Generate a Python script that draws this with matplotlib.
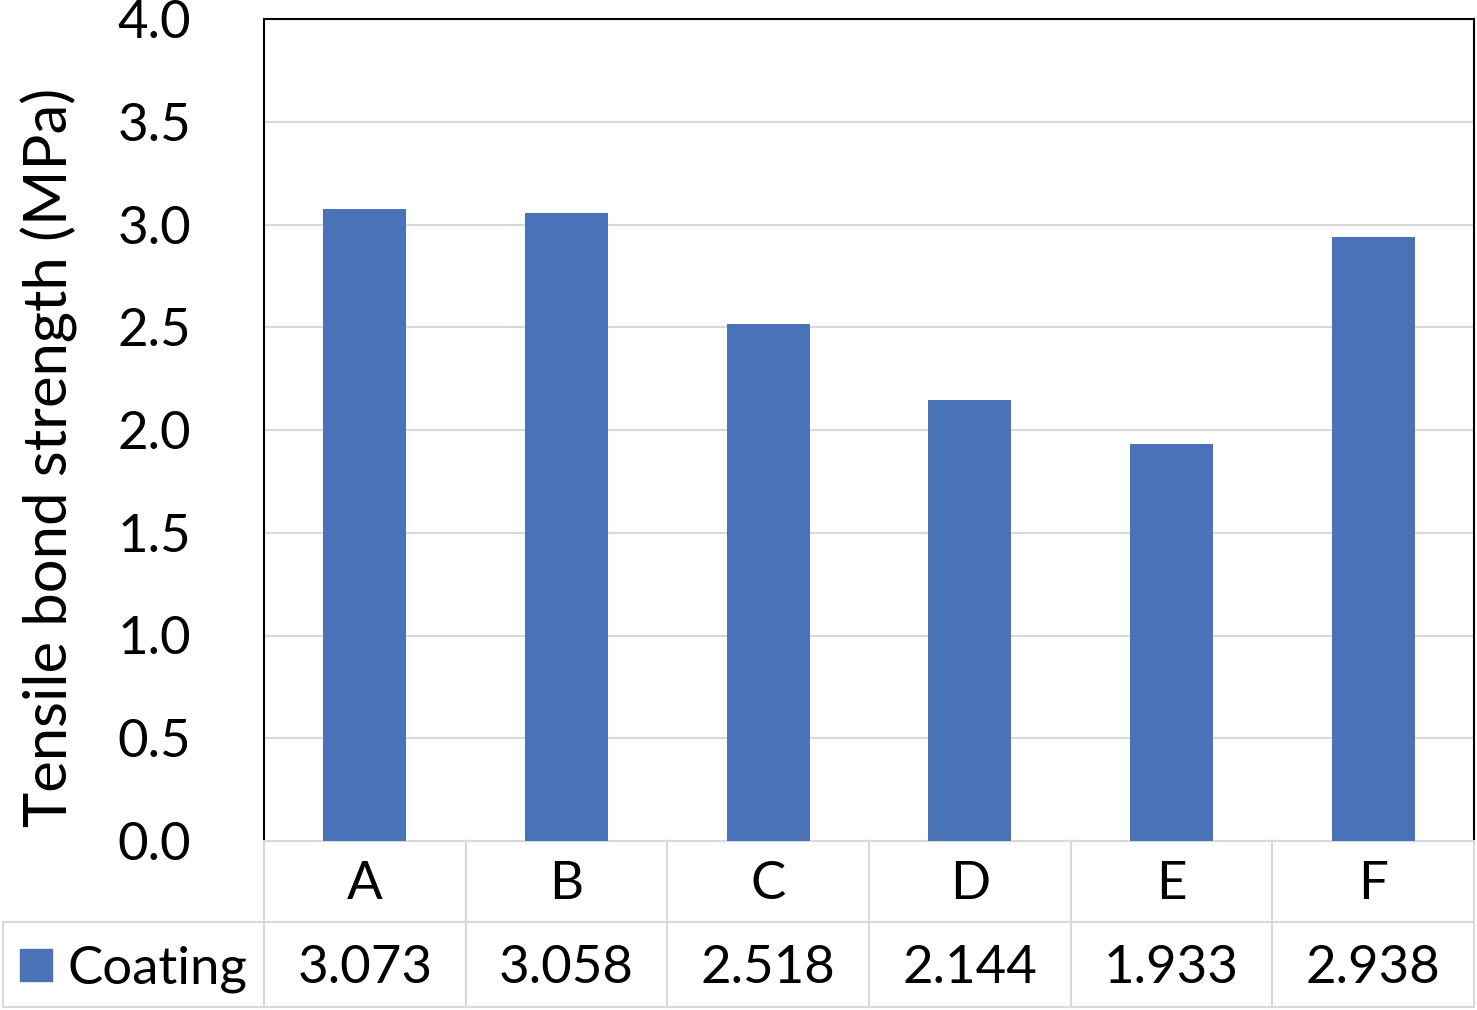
import matplotlib.pyplot as plt
from matplotlib.transforms import blended_transform_factory
from matplotlib.patches import Rectangle

categories = ['A', 'B', 'C', 'D', 'E', 'F']
coating = [3.073, 3.058, 2.518, 2.144, 1.933, 2.938]
series_name = 'Coating'
yticks = [0.0, 0.5, 1.0, 1.5, 2.0, 2.5, 3.0, 3.5, 4.0]

bar_color = '#4A72B8'
grid_color = '#D9D9D9'
plt.rcParams['font.family'] = ['Lato', 'DejaVu Sans']
fs = 38

W, H = 1477, 1010
fig = plt.figure(figsize=(W / 100, H / 100), dpi=100)
# plot area in pixels: left 264, right 1474, top 19, bottom 841
ax = fig.add_axes([264 / W, 1 - 841 / H, (1474 - 264) / W, (841 - 19) / H])

x = list(range(len(categories)))
ax.bar(x, coating, width=0.41, color=bar_color, zorder=3)
ax.set_xlim(-0.5, len(categories) - 0.5)
ax.set_ylim(0, 4)
ax.set_yticks(yticks)
ax.set_yticklabels([f'{v:.1f}' for v in yticks], fontsize=fs)
ax.tick_params(axis='y', length=0, pad=79)
for lab in ax.get_yticklabels():
    lab.set_horizontalalignment('center')
ax.set_xticks([])
ax.grid(axis='y', color=grid_color, linewidth=1.5, zorder=0)
for s in ax.spines.values():
    s.set_color('black')
    s.set_linewidth(1.5)
ax.spines['bottom'].set_color(grid_color)

# y axis title
fig.text(49 / W, 1 - 457 / H, 'Tensile bond strength (MPa)', fontsize=43,
         rotation=90, ha='center', va='center')

# data table under the plot area
tr = blended_transform_factory(ax.transData, ax.transAxes)
ph = 841 - 19
row1 = -(922 - 841) / ph
row2 = -(1007 - 841) / ph
left_x = -0.5 - 261 / ((1474 - 264) / len(categories))
lw = 1.5
kw = dict(transform=tr, clip_on=False, color=grid_color, lw=lw)
ax.plot([left_x, len(categories) - 0.5], [row1, row1], **kw)
ax.plot([left_x, len(categories) - 0.5], [row2, row2], **kw)
ax.plot([left_x, left_x], [row1, row2], **kw)
for i in range(len(categories) + 1):
    ax.plot([i - 0.5, i - 0.5], [0, row2], **kw)
for i, (c, v) in enumerate(zip(categories, coating)):
    ax.text(i, row1 / 2 - 3 / ph, c, transform=tr, ha='center', va='center',
            fontsize=fs, clip_on=False)
    ax.text(i, (row1 + row2) / 2 - 4 / ph, f'{v:.3f}', transform=tr,
            ha='center', va='center', fontsize=fs, clip_on=False)

# legend key + series name
fig.patches.append(Rectangle((20 / W, 1 - 981 / H), 32 / W, 32 / H,
                             transform=fig.transFigure, color=bar_color))
fig.text(68 / W, 1 - 969 / H, series_name, fontsize=fs, va='center', ha='left')

fig.savefig('out.png', dpi=100)
